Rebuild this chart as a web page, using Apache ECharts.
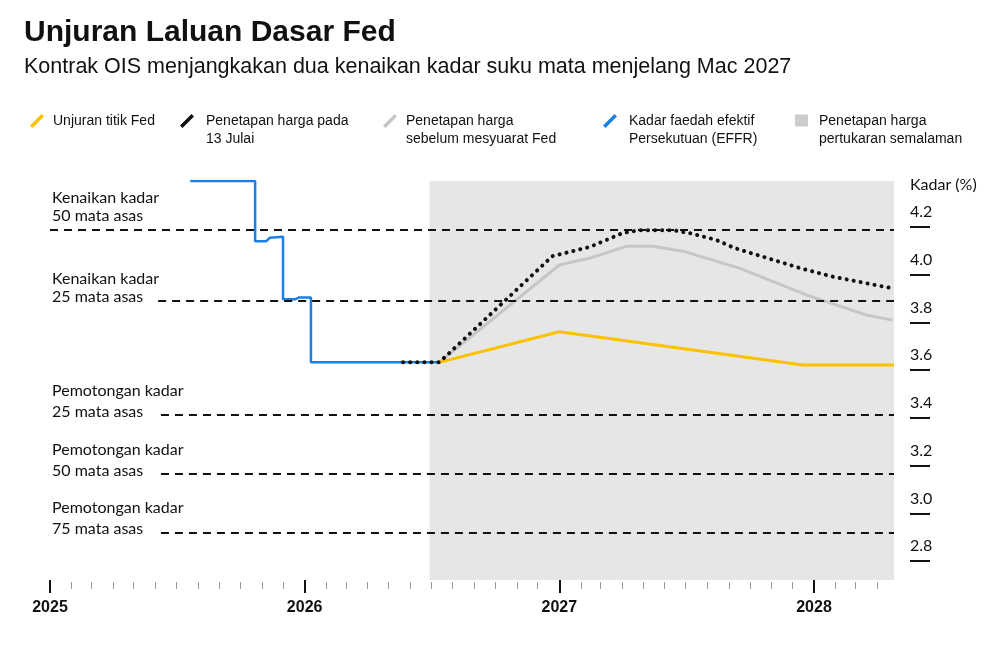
<!DOCTYPE html>
<html>
<head>
<meta charset="utf-8">
<title>Unjuran Laluan Dasar Fed</title>
<script src="https://cdn.jsdelivr.net/npm/echarts@6.0.0/dist/echarts.min.js"></script>
<style>
  html, body { margin: 0; padding: 0; background: #fff; }
  #chart { width: 1000px; height: 646px; }
</style>
</head>
<body>
<div id="chart"></div>
<script>
  /******************/
  //region    //data

  // [tarikh, kadar %]
  let effr = [
    ['2025-07-21', 4.393], ['2025-10-22', 4.393], ['2025-10-22', 4.141], ['2025-11-07', 4.141],
    ['2025-11-12', 4.155], ['2025-12-01', 4.159], ['2025-12-01', 3.898], ['2025-12-19', 3.898],
    ['2025-12-24', 3.905], ['2026-01-10', 3.905], ['2026-01-10', 3.633], ['2026-07-13', 3.633],
  ];
  let pricingJul13 = [
    ['2026-05-22', 3.633], ['2026-07-13', 3.633], ['2026-12-22', 4.078], ['2027-02-14', 4.117],
    ['2027-04-02', 4.175], ['2027-04-26', 4.187], ['2027-06-12', 4.187], ['2027-07-06', 4.175],
    ['2027-08-14', 4.146], ['2027-09-09', 4.112], ['2027-12-12', 4.028], ['2028-01-28', 3.992],
    ['2028-04-23', 3.943],
  ];
  let pricingPreFed = [
    ['2026-07-13', 3.633], ['2027-01-01', 4.041], ['2027-02-14', 4.070], ['2027-04-08', 4.120],
    ['2027-05-15', 4.120], ['2027-06-27', 4.099], ['2027-09-16', 4.028], ['2027-12-22', 3.915],
    ['2028-03-17', 3.831], ['2028-04-23', 3.810],
  ];
  let fedDots = [
    ['2026-07-13', 3.633], ['2027-01-01', 3.761], ['2027-12-16', 3.622], ['2028-04-25', 3.622],
  ];

  let shadeStart = '2026-06-29';
  let axisStart = '2025-01-01';
  let axisEnd = '2028-04-25';
  let yearTicks = [2025, 2026, 2027, 2028];
  let rateTicks = [2.8, 3.0, 3.2, 3.4, 3.6, 3.8, 4.0, 4.2];

  // garis rujukan kenaikan / pemotongan
  let moveLevels = [4.187, 3.890, 3.414, 3.165, 2.918];
  let moveStarts = ['2025-01-01', '2025-06-05', '2025-06-09', '2025-06-09', '2025-06-09'];
  let moveLabels = [
    'Kenaikan kadar\n50 mata asas',
    'Kenaikan kadar\n25 mata asas',
    'Pemotongan kadar\n25 mata asas',
    'Pemotongan kadar\n50 mata asas',
    'Pemotongan kadar\n75 mata asas',
  ];

  //endregion

  /******************/
  //region    //helpers

  // 'YYYY-MM-DD' -> tahun perpuluhan
  function yr(d) {
    let t = new Date(d + 'T00:00:00Z');
    let y = t.getUTCFullYear();
    let s = Date.UTC(y, 0, 1), e = Date.UTC(y + 1, 0, 1);
    return y + (t - s) / (e - s);
  }

  function toXY(arr) {
    return arr.map(p => [yr(p[0]), p[1]]);
  }

  let xMin = yr(axisStart), xMax = yr(axisEnd);

  let monthTicks = [];
  for (let y = 2025; y <= 2028; y++) {
    for (let m = 1; m < 12; m++) {
      let v = yr(y + '-' + String(m + 1).padStart(2, '0') + '-01');
      if (v < xMax) monthTicks.push(v);
    }
  }

  //endregion

  /******************/
  //region    //chart

  let SANS = "'Liberation Sans', Arial, sans-serif";
  let HUM = "Lato, 'Open Sans', sans-serif";
  // garis condong; sub-path kosong di bawah supaya ikon sejajar dengan baris pertama teks
  let slash1 = 'path://M0,11.5 L11.5,0 L14,2.5 L2.5,14 Z';
  let slash2 = 'path://M0,11.5 L11.5,0 L14,2.5 L2.5,14 Z M0,32 L0.01,32 Z';
  let box2 = 'path://M0,1 L13,1 L13,13 L0,13 Z M0,32 L0.01,32 Z';

  let names = {
    dots: 'Unjuran titik Fed',
    jul: 'Penetapan harga pada 13 Julai',
    pre: 'Penetapan harga sebelum mesyuarat Fed',
    effr: 'Kadar faedah efektif Persekutuan (EFFR)',
    ois: 'Penetapan harga pertukaran semalaman',
  };
  let legendText = {};
  legendText[names.dots] = 'Unjuran titik Fed';
  legendText[names.jul] = 'Penetapan harga pada\n13 Julai';
  legendText[names.pre] = 'Penetapan harga\nsebelum mesyuarat Fed';
  legendText[names.effr] = 'Kadar faedah efektif\nPersekutuan (EFFR)';
  legendText[names.ois] = 'Penetapan harga\npertukaran semalaman';

  function legendItem(name, left, gap, icon, w, h) {
    return {
      data: [name],
      left: left,
      top: 112,
      padding: 0,
      icon: icon,
      itemWidth: w,
      itemHeight: h,
      selectedMode: false,
      itemStyle: {borderWidth: 0},
      formatter: n => legendText[n],
      textStyle: {
        fontFamily: SANS,
        fontSize: 14,
        color: '#111',
        lineHeight: 18,
        padding: [0, 0, 0, gap],
      },
    };
  }

  let chart = echarts.init(document.getElementById('chart'));

  let option = {
    animation: false,
    backgroundColor: '#fff',
    title: {
      text: 'Unjuran Laluan Dasar Fed',
      subtext: 'Kontrak OIS menjangkakan dua kenaikan kadar suku mata menjelang Mac 2027',
      left: 24,
      top: 15,
      padding: 0,
      itemGap: 3,
      textStyle: {fontFamily: SANS, fontSize: 30, fontWeight: 'bold', color: '#111', lineHeight: 36},
      subtextStyle: {fontFamily: SANS, fontSize: 21.5, color: '#111', lineHeight: 26},
    },
    legend: [
      legendItem(names.dots, 30, 4, slash1, 14, 14),
      legendItem(names.jul, 180, 7, slash2, 14, 32),
      legendItem(names.pre, 383, 4, slash2, 14, 32),
      legendItem(names.effr, 603, 7, slash2, 14, 32),
      legendItem(names.ois, 795, 6, box2, 13, 32),
    ],
    grid: {left: 50, right: 106, top: 181, bottom: 66},
    xAxis: [
      {
        type: 'value', min: xMin, max: xMax,
        axisLine: {show: false},
        splitLine: {show: false},
        axisTick: {show: true, customValues: yearTicks, length: 13, lineStyle: {color: '#111', width: 2}},
        axisLabel: {
          customValues: yearTicks, margin: 20,
          fontFamily: SANS, fontSize: 16, fontWeight: 'bold', color: '#111',
          formatter: v => String(Math.round(v)),
        },
      },
      {
        type: 'value', min: xMin, max: xMax, position: 'bottom', offset: 2,
        axisLine: {show: false},
        splitLine: {show: false},
        axisTick: {show: true, customValues: monthTicks, length: 7, lineStyle: {color: '#9a9a9a', width: 1}},
        axisLabel: {show: false},
      },
    ],
    yAxis: {
      type: 'value', position: 'right', min: 2.721, max: 4.393, offset: 16,
      axisLine: {show: false},
      splitLine: {show: false},
      axisTick: {show: true, customValues: rateTicks, length: 20, lineStyle: {color: '#111', width: 2}},
      axisLabel: {
        customValues: rateTicks, margin: 0, align: 'left', verticalAlign: 'bottom',
        padding: [0, 0, 7, 0], lineHeight: 16,
        fontFamily: HUM, fontSize: 16, color: '#111',
        formatter: v => v.toFixed(1),
      },
    },
    graphic: moveLabels.map((t, i) => ({
      type: 'text',
      left: 52,
      top: [189, 270, 380, 439, 497][i],
      style: {text: t, fontFamily: HUM, fontSize: 16, fill: '#111', lineHeight: i < 2 ? 18 : 21},
    })).concat([{
      type: 'text', left: 910, top: 177,
      style: {text: 'Kadar (%)', fontFamily: HUM, fontSize: 16, fill: '#111'},
    }]),
    series: [
      {
        name: names.ois, type: 'line', data: [], silent: true,
        itemStyle: {color: '#cccccc'}, lineStyle: {color: '#cccccc'},
        markArea: {
          silent: true,
          itemStyle: {color: '#e6e6e6'},
          data: [[{xAxis: yr(shadeStart)}, {xAxis: xMax}]],
        },
      },
      {
        name: 'rujukan', type: 'line', data: [], silent: true,
        markLine: {
          silent: true, symbol: 'none', label: {show: false},
          lineStyle: {color: '#111', type: [8, 6], width: 2},
          data: moveLevels.map((v, i) => [{coord: [yr(moveStarts[i]), v]}, {coord: [xMax, v]}]),
        },
      },
      {
        name: names.pre, type: 'line', data: toXY(pricingPreFed), showSymbol: false,
        itemStyle: {color: '#c6c6c6'}, lineStyle: {color: '#c6c6c6', width: 3},
      },
      {
        name: names.dots, type: 'line', data: toXY(fedDots), showSymbol: false,
        itemStyle: {color: '#fcc100'}, lineStyle: {color: '#fcc100', width: 3},
      },
      {
        name: names.effr, type: 'line', data: toXY(effr), showSymbol: false,
        itemStyle: {color: '#1c80e3'}, lineStyle: {color: '#1c80e3', width: 2.5},
      },
      {
        name: names.jul, type: 'line', data: toXY(pricingJul13), showSymbol: false,
        itemStyle: {color: '#111'}, lineStyle: {color: '#111', width: 4, type: [0.1, 7], cap: 'round'},
      },
    ],
  };

  chart.setOption(option);

  //endregion
</script>
</body>
</html>
